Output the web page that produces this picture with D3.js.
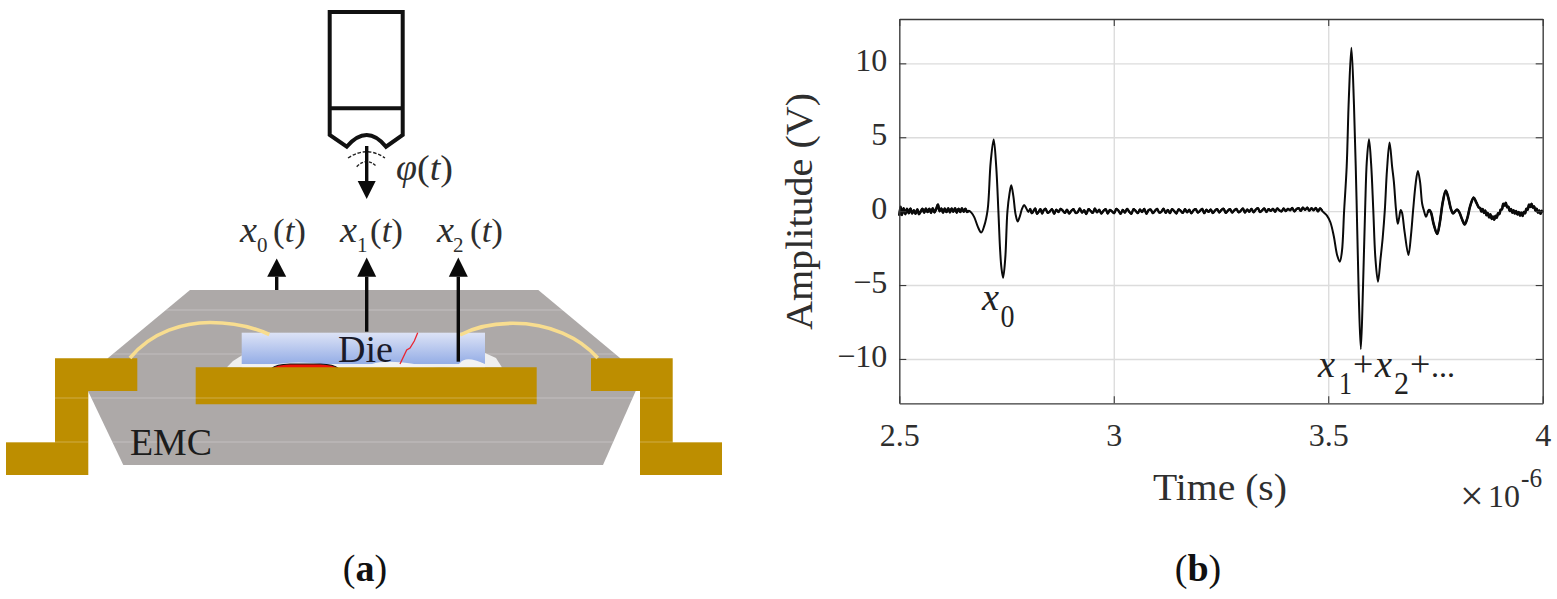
<!DOCTYPE html>
<html><head><meta charset="utf-8">
<script src="https://cdn.jsdelivr.net/npm/d3@7"></script>
<style>html,body{margin:0;padding:0;background:#fff;overflow:hidden}svg{display:block}text{font-family:"Liberation Serif",serif}</style>
</head><body><svg id="c" width="1557" height="599"></svg>
<script>
// ---------- chart data (time in microseconds, amplitude in volts) ----------
const xTicks = [2.5, 3, 3.5, 4];
const yTicks = [-10, -5, 0, 5, 10];
const quietA_t = [2.500,2.503,2.506,2.510,2.514,2.518,2.522,2.526,2.530,2.534,2.538,2.542,2.546,2.550,2.554,2.558,2.562,2.566,2.570,2.574,2.578,2.582,2.586,2.590,2.594,2.598,2.602,2.606,2.610,2.614,2.618,2.622,2.626,2.630,2.634,2.638,2.642,2.646,2.650,2.654,2.658,2.662];
const quietA_v = [-0.3,0.3,-0.25,0.2,-0.2,0.16,-0.14,0.18,-0.16,0.06,-0.18,0.12,-0.2,-0.02,0.16,-0.1,0.18,-0.06,0.16,-0.12,0.2,-0.08,0.14,0.45,0,0.18,-0.1,0.18,-0.06,0.2,-0.08,0.18,-0.04,0.2,-0.1,0.16,-0.06,0.2,-0.04,0.16,-0.05,0.02];
const pulseA_t = [2.668,2.675,2.683,2.691,2.698,2.706,2.713,2.720,2.726,2.731,2.735,2.738,2.742,2.747,2.752,2.757,2.761,2.766,2.771,2.776,2.781,2.786,2.791,2.796,2.801];
const pulseA_v = [-0.1,-0.42,-1.05,-1.45,-1.0,0.1,3.3,4.85,3.0,0,-2.6,-3.8,-4.5,-3.2,-0.05,1.2,1.75,1.0,-0.2,-0.7,-0.35,0.15,0.42,0.2,-0.05];
const quietB_t = [2.805,2.809,2.813,2.817,2.821,2.825,2.829,2.833,2.837,2.841,2.846,2.851,2.856,2.861,2.866,2.871,2.876,2.881,2.886,2.891,2.896,2.901,2.906,2.911,2.916,2.921,2.926,2.931,2.936,2.941,2.946,2.951,2.956,2.961,2.966,2.971,2.976,2.981,2.986,2.991,2.996,3.001,3.006,3.011,3.016,3.021,3.026,3.031,3.036,3.041,3.046,3.051,3.056,3.061,3.066,3.071,3.076,3.081,3.086,3.091,3.096,3.101,3.106,3.111,3.116,3.121,3.126,3.131,3.136,3.141,3.146,3.151,3.156,3.161,3.166,3.171,3.176,3.181,3.186,3.191,3.196,3.201,3.206,3.211,3.216,3.221,3.226,3.231,3.236,3.241,3.246,3.251,3.256,3.261,3.266,3.271,3.276,3.281,3.286,3.291,3.296,3.301,3.306,3.311,3.316,3.321,3.326,3.331,3.336,3.341,3.346,3.351,3.356,3.361,3.366,3.371,3.376,3.381,3.386,3.391,3.396,3.401,3.406,3.411,3.416,3.421,3.426,3.431,3.436,3.441,3.446,3.451,3.456,3.461,3.466,3.471,3.476,3.481,3.486];
const quietB_v = [
 0.16,-0.14,0.02,0.18,-0.18,-0.04,0.14,-0.16,0.08,0.16,
 -0.12,-0.02,0.14,-0.18,0.1,-0.06,0.16,0.04,-0.12,0.1,
 -0.16,0.02,0.14,-0.12,-0.06,0.18,-0.1,0.06,-0.2,0.14,
 0.02,-0.12,0.18,-0.08,0.1,-0.16,0.02,0.14,-0.16,0.08,
 -0.02,-0.14,0.16,0.03,-0.18,0.09,-0.1,0.16,-0.04,-0.18,
 0.14,0.02,-0.14,0.12,-0.06,0.16,-0.18,0.06,0.11,-0.14,
 0.02,0.16,-0.1,-0.04,0.17,-0.12,0.08,-0.14,0.14,0,
 -0.16,0.12,0.02,-0.12,0.14,-0.08,0.1,-0.15,0.06,0.14,
 -0.1,0.02,0.16,-0.14,0.1,-0.05,0.12,-0.13,0.04,0.14,
 -0.09,0.08,0.16,-0.12,0.03,0.14,-0.1,0.06,0.15,-0.08,
 0.02,0.18,-0.1,0.11,-0.04,0.16,-0.08,0.1,0.2,-0.06,
 0.06,0.18,-0.06,0.14,0.02,0.16,-0.04,0.18,0.06,-0.02,
 0.18,0,0.16,0.06,0.22,-0.02,0.14,0.2,0.02,0.24,
 0.08,0.24,0.03,0.2,0.06,0.22,-0.02,0.19,0.02];
const pulseB_t = [3.490,3.497,3.505,3.513,3.521,3.527,3.532,3.537,3.543,3.548,3.554,3.560,3.566,3.571,3.576,3.581,3.586,3.590,3.595,3.600,3.605,3.610,3.616,3.622,3.627,3.632,3.637,3.643,3.649,3.653,3.658,3.662,3.665,3.669,3.672,3.678,3.687,3.693,3.698,3.704,3.709,3.714,3.719,3.723,3.728,3.732,3.735,3.739,3.746,3.754,3.760,3.767,3.774,3.780,3.786,3.791,3.796,3.801,3.806,3.812,3.818,3.824,3.831,3.839,3.845,3.851];
const pulseB_v = [-0.1,-0.3,-0.75,-1.7,-3.0,-3.42,-2.7,0,3,7.6,11.06,7.2,0.8,-5.5,-9.33,-5.2,0.1,3.4,4.86,3.2,0.1,-3.2,-4.77,-3.2,-1.8,0.1,2.8,4.64,3.0,2.0,0.1,-0.85,-0.5,0.07,-0.1,-1.4,-2.97,-1.6,0.1,1.9,2.72,2.0,0.5,0.05,-0.38,-0.1,0.07,-0.05,-0.9,-1.55,-0.8,0.6,1.4,0.9,0.15,-0.15,0,0.1,-0.1,-0.55,-0.9,-0.5,0.35,0.92,0.6,0.25];
const tail_t = [3.854,3.857,3.860,3.863,3.866,3.869,3.872,3.875,3.878,3.881,3.884,3.887,3.890,3.893,3.896,3.899,3.902,3.905,3.908,3.911,3.914,3.917,3.920,3.923,3.926,3.929,3.932,3.935,3.938,3.941,3.944,3.947,3.950,3.953,3.956,3.959,3.962,3.965,3.968,3.971,3.974,3.977,3.980,3.983,3.986,3.989,3.992,3.995,3.998,4.000];
const tail_v = [0.22,-0.02,0.14,-0.12,0.04,-0.28,-0.12,-0.42,-0.22,-0.52,-0.36,-0.58,-0.32,-0.44,-0.14,-0.2,0.1,0.12,0.5,0.38,0.56,0.26,0.3,0.02,0.14,-0.1,0.06,-0.16,0,-0.22,-0.06,-0.3,-0.1,-0.32,-0.06,-0.14,0.16,0.1,0.44,0.28,0.5,0.24,0.32,0.04,0.16,-0.1,0.04,-0.18,0.02,-0.08];

const sx = d3.scaleLinear().domain([2.5, 4]).range([899.3, 1542.7]);
const sy = d3.scaleLinear().domain([-13, 13]).range([403.3, 19]);
const W = 1542.7 - 899.3, H = 403.3 - 19;
const ink = "#2e2e2e";

const svg = d3.select("#c");
function label(g, x, y, str, size, opt = {}) {
  const t = g.append("text").attr("x", x).attr("y", y).attr("font-size", size)
    .attr("fill", opt.fill || ink).text(str);
  if (opt.italic) t.attr("font-style", "italic");
  if (opt.bold) t.attr("font-weight", "bold");
  if (opt.anchor) t.attr("text-anchor", opt.anchor);
  if (opt.len) t.attr("textLength", opt.len).attr("lengthAdjust", "spacingAndGlyphs");
  return t;
}
function parenT(g, x, y, size, len) {
  const t = label(g, x, y, "", size, {len});
  t.append("tspan").text("(");
  t.append("tspan").attr("font-style","italic").text("t");
  t.append("tspan").text(")");
}
function caption(g, x, y, letter) {
  const t = label(g, x, y, "", 38, {fill:"#111", anchor:"middle"});
  t.append("tspan").text("(");
  t.append("tspan").attr("font-weight","bold").text(letter);
  t.append("tspan").text(")");
}

// ---------- panel (a): schematic ----------
const a = svg.append("g");
const emc = [[190,290],[538.3,290],[620,358],[635.7,391],[603,465],[123.3,465],[88,391],[108,358]];
const leadL = [[55,358.3],[137.3,358.3],[137.3,391],[88.3,391],[88.3,475],[6,475],[6,442.3],[55,442.3]];
const leadR = [[591,358.3],[672.7,358.3],[672.7,442.3],[722,442.3],[722,475],[640,475],[640,391],[591,391]];
const pad = [[195.7,367.3],[536.7,367.3],[536.7,404.3],[195.7,404.3]];
const adhesive = [[226.7,367.5],[233,361],[241.7,355.5],[485,353],[496,358],[502,367.5]];
const crack = [[400,364],[406.7,350],[410,348],[414.3,341],[417.7,332.7]];
const pts = p => p.map(q => q.join(",")).join(" ");

const defs = svg.append("defs");
const grad = defs.append("linearGradient").attr("id","die").attr("x1",0).attr("x2",0).attr("y1",0).attr("y2",1);
grad.append("stop").attr("offset","0%").attr("stop-color","#dde3f6");
grad.append("stop").attr("offset","100%").attr("stop-color","#94ade6");
const clip = defs.append("clipPath").attr("id","seam");
[emc, leadL, leadR].forEach(p => clip.append("polygon").attr("points", pts(p)));

a.append("polygon").attr("points", pts(emc)).attr("fill", "#ada9a8");
a.append("line").attr("x1",0).attr("x2",730).attr("y1",354).attr("y2",354).attr("stroke","#fff").attr("stroke-opacity",0.25).attr("clip-path","url(#seam)");
a.append("polygon").attr("points", pts(adhesive)).attr("fill", "#efefef");
a.append("rect").attr("x",241.7).attr("y",332.7).attr("width",243.3).attr("height",31.3).attr("fill","url(#die)");
a.append("path").attr("d","M241.7,364 Q262,366 282,363.5 T330,365 T372,364 T420,365 T460,363 T485,364 L485,368 L241.7,368 Z").attr("fill","#f2f2f2");
a.append("path").attr("d","M271.7,368.5 Q276,364.3 290,364 H320 Q334,364.3 338.3,368.5 Z").attr("fill","#ee1208").attr("stroke","#111").attr("stroke-width",1.1);
a.append("polygon").attr("points", pts(pad)).attr("fill", "#bd8e00");
a.append("polygon").attr("points", pts(leadL)).attr("fill", "#bd8e00");
a.append("polygon").attr("points", pts(leadR)).attr("fill", "#bd8e00");
a.append("path").attr("d","M130,358 C152,331 185,322.5 210,322.5 C235,322.5 255,328 269.3,334.5").attr("fill","none").attr("stroke","#f8dd8f").attr("stroke-width",3.6);
a.append("path").attr("d","M460,335 C475,327 495,323.3 513,323.3 C550,323.3 580,338 597.7,358").attr("fill","none").attr("stroke","#f8dd8f").attr("stroke-width",3.6);
a.append("polyline").attr("points", pts(crack)).attr("fill","none").attr("stroke","#ea2530").attr("stroke-width",1.3);
[310,398,442].forEach(y => a.append("line").attr("x1",0).attr("x2",730).attr("y1",y).attr("y2",y)
  .attr("stroke","#fff").attr("stroke-opacity",0.28).attr("clip-path","url(#seam)"));

// transducer
a.append("path").attr("d","M329.7,12 H402.7 V135 L386,146.7 C378,137 372,135 366.7,135 C361,135 355,137 346.7,146.7 L329.7,135 Z M329.7,108.3 H402.7")
  .attr("fill","none").attr("stroke","#111").attr("stroke-width",4);
a.append("path").attr("d","M348,158 Q366.7,145.5 385,158").attr("fill","none").attr("stroke","#222").attr("stroke-width",1.4).attr("stroke-dasharray","3.5 1.8");
a.append("path").attr("d","M356.7,166.7 Q366.7,156.5 376.7,166.7").attr("fill","none").attr("stroke","#222").attr("stroke-width",1.4).attr("stroke-dasharray","3 1.6");
function arrow(x, y0, yBase, yTip, hw) {
  a.append("line").attr("x1",x).attr("x2",x).attr("y1",y0).attr("y2",yBase).attr("stroke","#0a0a0a").attr("stroke-width",3.4);
  a.append("polygon").attr("points", pts([[x-hw,yBase],[x+hw,yBase],[x,yTip]])).attr("fill","#0a0a0a");
}
arrow(366.7,146,181,199,9);
arrow(276.7,290,276.7,258.5,9.5);
arrow(366.7,331.7,276.7,257.5,9.5);
arrow(458.3,361.7,276.7,257.5,9.5);

label(a,396,180,"φ",38,{italic:true,len:21});
parenT(a,417,180,35,36);
[["0",240,257,273],["1",340,357,370],["2",437,453,470]].forEach(([s,x,sb,p]) => {
  label(a,x,242,"x",36,{italic:true,len:17});
  label(a,sb,252,s,21);
  parenT(a,p,242,34,33);
});
label(a,338,361.7,"Die",38,{fill:"#1a1a2a",len:55});
label(a,130,455,"EMC",38,{fill:"#1c1c1c",len:82});
caption(a,365,581,"a");

// ---------- panel (b): waveform ----------
const b = svg.append("g");
const time = [...quietA_t, ...pulseA_t, ...quietB_t, ...pulseB_t, ...tail_t];
const volts = [...quietA_v, ...pulseA_v, ...quietB_v, ...pulseB_v, ...tail_v];

// grid lines
b.append("g").attr("transform","translate(0,403.3)")
  .call(d3.axisBottom(sx).tickValues(xTicks).tickSize(-H).tickFormat(""))
  .call(g => { g.select(".domain").remove(); g.selectAll("line").attr("stroke","#dcdcdc").attr("stroke-width",1.4); });
b.append("g").attr("transform","translate(899.3,0)")
  .call(d3.axisLeft(sy).tickValues(yTicks).tickSize(-W).tickFormat(""))
  .call(g => { g.select(".domain").remove(); g.selectAll("line").attr("stroke","#dcdcdc").attr("stroke-width",1.4); });

const line = d3.line().x(d => sx(d[0])).y(d => sy(d[1])).curve(d3.curveCatmullRom.alpha(0.5));
const trace = (t, v, w) => b.append("path").datum(d3.zip(t, v)).attr("d", line).attr("fill","none")
  .attr("stroke","#0a0a0a").attr("stroke-width",w).attr("stroke-linejoin","round");
trace(time, volts, 2);
// the noisy stretches read as a heavier band
trace(quietA_t, quietA_v, 2.6);
trace(quietB_t, quietB_v, 2.3);
trace([...pulseB_t.slice(45), ...tail_t], [...pulseB_v.slice(45), ...tail_v], 2.6);

// frame axes with inward ticks on all four sides
const styleAxis = g => {
  g.select(".domain").attr("stroke","#3a3a3a").attr("stroke-width",1.3);
  g.selectAll(".tick line").attr("stroke","#3a3a3a").attr("stroke-width",1.1);
  g.selectAll("text").attr("font-family","Liberation Serif").attr("font-size",32).attr("fill",ink);
};
b.append("g").attr("transform","translate(0,403.3)")
  .call(d3.axisBottom(sx).tickValues(xTicks).tickSizeInner(-7).tickSizeOuter(0).tickPadding(20).tickFormat(d3.format("")))
  .call(styleAxis);
b.append("g").attr("transform","translate(0,19)")
  .call(d3.axisTop(sx).tickValues(xTicks).tickSizeInner(-7).tickSizeOuter(0).tickFormat(""))
  .call(styleAxis);
b.append("g").attr("transform","translate(899.3,0)")
  .call(d3.axisLeft(sy).tickValues(yTicks).tickSizeInner(-7).tickSizeOuter(0).tickPadding(12).tickFormat(d => String(d).replace("-","−")))
  .call(styleAxis).call(g => g.selectAll("text").attr("dy",".22em"));
b.append("g").attr("transform","translate(1542.7,0)")
  .call(d3.axisRight(sy).tickValues(yTicks).tickSizeInner(-7).tickSizeOuter(0).tickFormat(""))
  .call(styleAxis);

label(b,0,0,"Amplitude (V)",37,{len:237}).attr("transform","translate(812,330) rotate(-90)");
label(b,1153,500,"Time (s)",37,{len:134});
label(b,1460,509.5,"×",42);
label(b,1488,507,"10",31,{len:32});
label(b,1521,487,"-6",27,{len:21});

label(b,982,310,"x",38,{italic:true,fill:"#222",len:17});
label(b,1000.5,327,"0",31,{fill:"#222",len:14});
label(b,1318,377,"x",38,{italic:true,fill:"#222",len:17});
label(b,1339,394,"1",31,{fill:"#222",len:13});
label(b,1353,376,"+",36,{fill:"#222"});
label(b,1375,377,"x",38,{italic:true,fill:"#222",len:17});
label(b,1394,394,"2",31,{fill:"#222",len:15});
label(b,1410,376,"+",36,{fill:"#222"});
label(b,1431,377,"...",31,{fill:"#222",len:24});
caption(b,1198,581,"b");
</script></body></html>
